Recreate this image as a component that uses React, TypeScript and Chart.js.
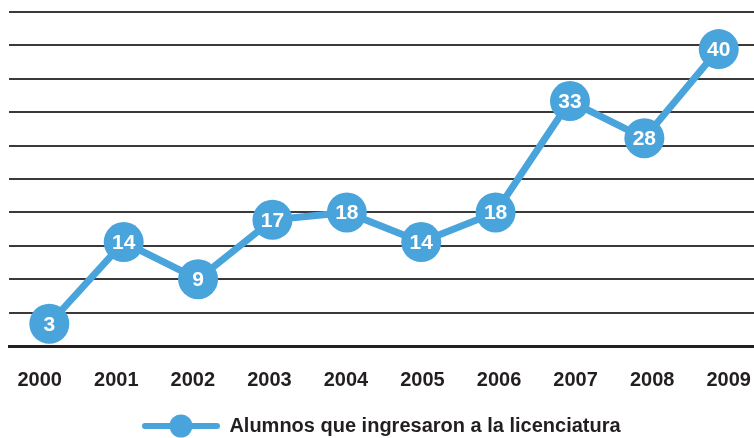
import React, { useEffect, useRef } from "react";
import { Chart, registerables } from "chart.js";

Chart.register(...registerables);

const years = ["2000", "2001", "2002", "2003", "2004", "2005", "2006", "2007", "2008", "2009"];
const values = [3, 14, 9, 17, 18, 14, 18, 33, 28, 40];
const seriesLabel = "Alumnos que ingresaron a la licenciatura";

const BLUE = "#48a4da";
const DARK = "#231f20";
const FONT = '"Liberation Sans", Arial, sans-serif';

function makeLegendStyle(): HTMLCanvasElement {
  const c = document.createElement("canvas");
  c.width = 78;
  c.height = 24;
  const ctx = c.getContext("2d")!;
  ctx.strokeStyle = BLUE;
  ctx.lineWidth = 6;
  ctx.lineCap = "round";
  ctx.beginPath();
  ctx.moveTo(3, 12);
  ctx.lineTo(75, 12);
  ctx.stroke();
  ctx.fillStyle = BLUE;
  ctx.beginPath();
  ctx.arc(39, 12, 11.5, 0, Math.PI * 2);
  ctx.fill();
  return c;
}

const valueLabels = {
  id: "valueLabels",
  afterDatasetsDraw(chart: any) {
    const ctx = chart.ctx;
    const meta = chart.getDatasetMeta(0);
    ctx.save();
    ctx.fillStyle = "#ffffff";
    ctx.font = `bold 21px ${FONT}`;
    ctx.textAlign = "center";
    ctx.textBaseline = "middle";
    meta.data.forEach((el: any, i: number) => {
      ctx.fillText(String(values[i]), el.x, el.y + 1);
    });
    ctx.restore();
  },
};

export default function App() {
  const ref = useRef<HTMLCanvasElement | null>(null);
  useEffect(() => {
    if (!ref.current) return;
    const legendStyle = makeLegendStyle();
    const chart = new Chart(ref.current, {
      type: "line",
      data: {
        datasets: [
          {
            label: seriesLabel,
            data: values.map((v, i) => ({ x: i, y: v })),
            borderColor: BLUE,
            backgroundColor: BLUE,
            borderWidth: 7,
            tension: 0,
            pointRadius: 20,
            pointHoverRadius: 20,
            pointBorderWidth: 0,
            pointBackgroundColor: BLUE,
            clip: false as any,
          },
        ],
      },
      options: {
        animation: false,
        responsive: true,
        maintainAspectRatio: false,
        layout: { autoPadding: false, padding: { left: 9, right: 0, top: 12, bottom: -8 } },
        plugins: {
          tooltip: { enabled: false },
          legend: {
            position: "bottom",
            labels: {
              usePointStyle: true,
              pointStyle: legendStyle as any,
              pointStyleWidth: 77,
              color: DARK,
              font: { family: FONT, size: 20, weight: "bold" },
              padding: 3,
            },
          },
        },
        scales: {
          x: {
            type: "linear",
            position: "bottom",
            min: -0.542,
            max: 9.474,
            grid: { display: false, drawTicks: false },
            border: { display: true, width: 3, color: DARK },
            ticks: { display: false },
            afterFit: (s: any) => {
              s.height = 0;
              s.paddingLeft = 0;
              s.paddingRight = 0;
            },
          },
          xl: {
            type: "linear",
            position: "bottom",
            min: -0.401,
            max: 9.33,
            grid: { display: false, drawTicks: false },
            border: { display: false },
            afterBuildTicks: (axis: any) => {
              axis.ticks = years.map((_, i) => ({ value: i }));
            },
            afterFit: (s: any) => {
              s.height = 67;
              s.paddingLeft = 0;
              s.paddingRight = 0;
            },
            ticks: {
              autoSkip: false,
              maxRotation: 0,
              padding: 22,
              color: DARK,
              font: { family: FONT, size: 20, weight: "bold" },
              callback: (v: any) => years[Math.round(Number(v))] ?? "",
            },
          },
          y: {
            type: "linear",
            min: 0,
            max: 45,
            grid: { display: true, drawTicks: false, color: "#3a3a3a", lineWidth: 2 },
            border: { display: false },
            ticks: { display: false, stepSize: 4.5 },
          },
        },
      },
      plugins: [valueLabels],
    });
    return () => chart.destroy();
  }, []);
  return (
    <div style={{ position: "fixed", left: 0, top: 0, width: 754, height: 438, background: "#fff" }}>
      <canvas ref={ref} />
    </div>
  );
}
